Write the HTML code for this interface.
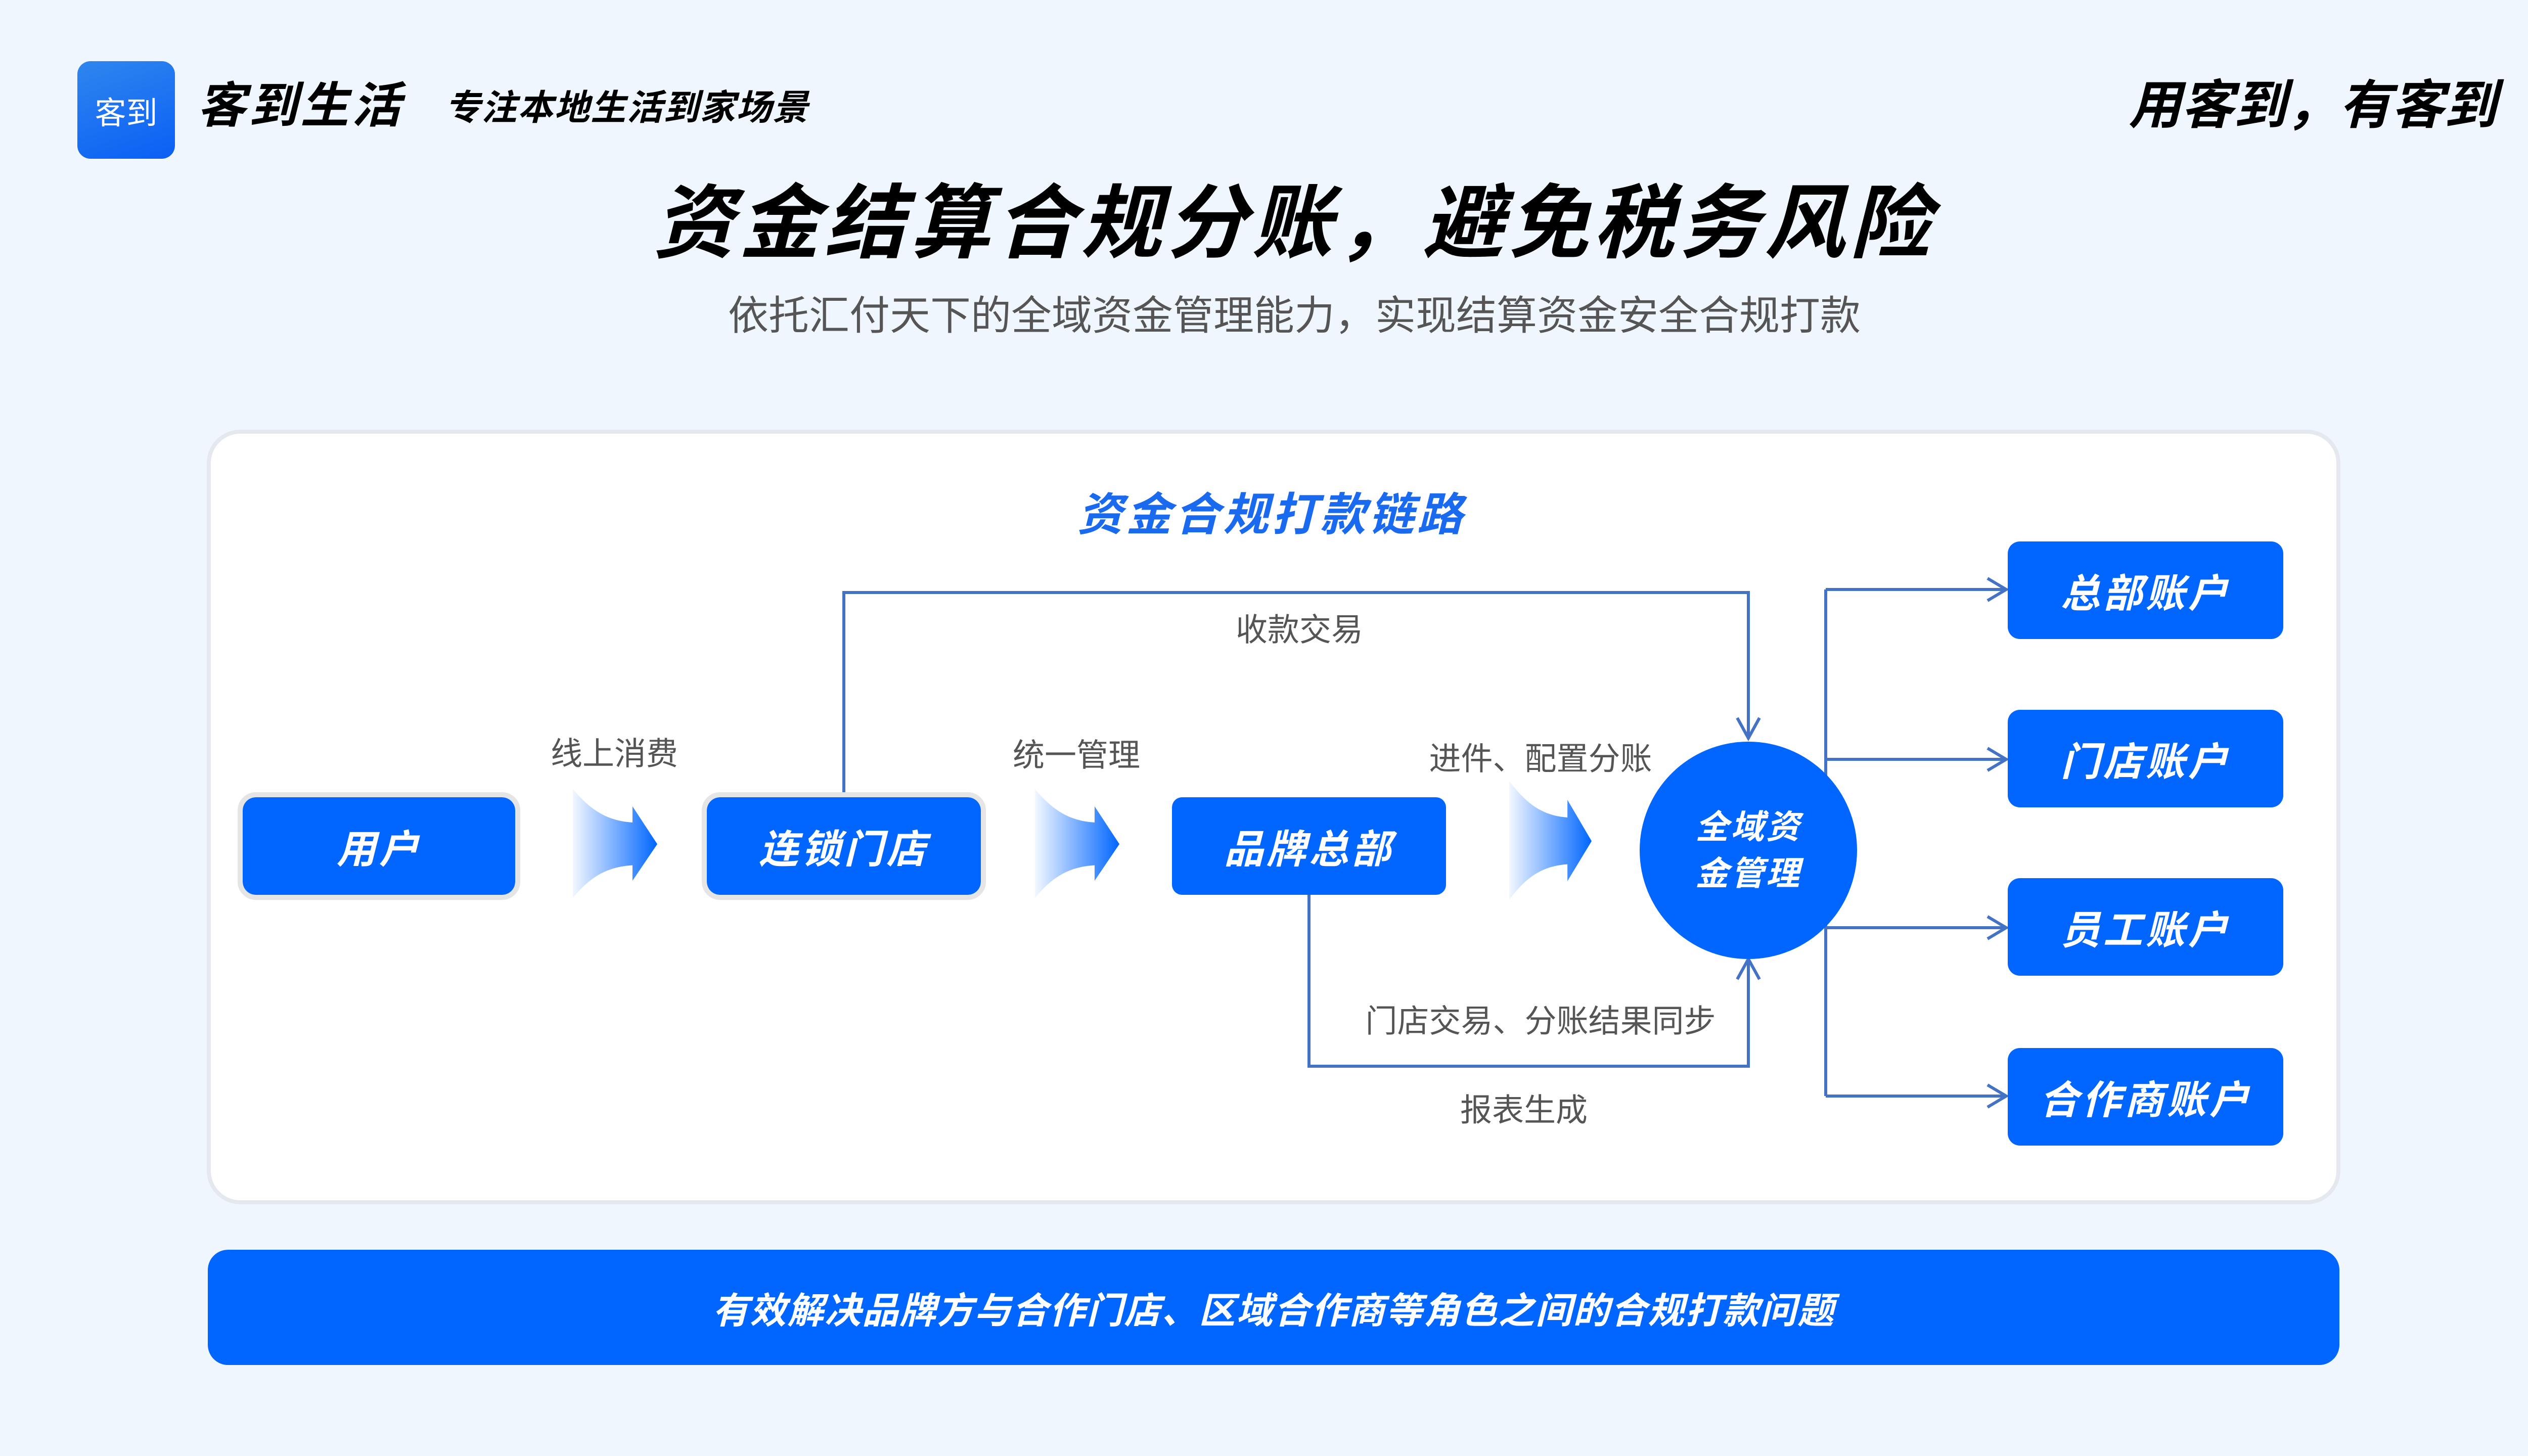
<!DOCTYPE html>
<html><head><meta charset="utf-8"><style>
*{margin:0;padding:0;box-sizing:border-box}
body{width:5120px;height:2880px;background:#f0f6fe;position:relative;overflow:hidden;font-family:"Liberation Sans","Noto Sans CJK SC",sans-serif}
.a{position:absolute}
.c{position:absolute;transform:translate(-50%,-50%);white-space:nowrap}
.bi{font-weight:bold;font-style:italic}
.node{position:absolute;background:#0066ff;color:#fff;display:flex;align-items:center;justify-content:center;font-weight:bold;font-style:italic;font-size:78px;letter-spacing:6px}
.lbl{font-size:63px;color:#555}
</style></head><body>
<div class="a" style="left:153px;top:121px;width:193px;height:193px;border-radius:26px;background:linear-gradient(160deg,#2f86ee,#0a5ff5);color:#fff;font-size:62px;display:flex;align-items:center;justify-content:center">客到</div>
<div class="a bi" style="left:390px;top:148px;font-size:96px;line-height:1.3;letter-spacing:6px">客到生活</div>
<div class="a bi" style="left:880px;top:168px;font-size:70px;line-height:1.3;letter-spacing:2px">专注本地生活到家场景</div>
<div class="a bi" style="left:4210px;top:142px;font-size:104px;line-height:1.3">用客到，有客到</div>
<div class="c bi" style="left:2560px;top:428px;font-size:160px;letter-spacing:9px">资金结算合规分账，避免税务风险</div>
<div class="c" style="left:2560px;top:618px;font-size:80px;color:#555">依托汇付天下的全域资金管理能力，实现结算资金安全合规打款</div>

<div class="a" style="left:409px;top:850px;width:4220px;height:1532px;background:#fff;border:8px solid #e5e9ef;border-radius:66px"></div>
<div class="c bi" style="left:2515px;top:1010px;font-size:90px;color:#1a6af0;letter-spacing:6px">资金合规打款链路</div>

<svg class="a" style="left:0;top:0" width="5120" height="2880">
<defs><linearGradient id="g" x1="0" x2="1" y1="0" y2="0"><stop offset="0" stop-color="#0066ff" stop-opacity="0.05"/><stop offset="1" stop-color="#0066ff"/></linearGradient></defs>
<g fill="none" stroke="#4472c4" stroke-width="6">
<polyline points="1669,1577 1669,1172 3458,1172 3458,1455"/>
<polyline points="3436,1420 3458,1460 3480,1420"/>
<polyline points="2589,1770 2589,2109 3458,2109 3458,1902"/>
<polyline points="3436,1937 3458,1897 3480,1937"/>
<polyline points="3611,1166 3611,2168"/>
<polyline points="3611,1166 3966,1166"/><polyline points="3931,1144 3968,1166 3931,1188"/>
<polyline points="3611,1502 3966,1502"/><polyline points="3931,1480 3968,1502 3931,1524"/>
<polyline points="3611,1835 3966,1835"/><polyline points="3931,1813 3968,1835 3931,1857"/>
<polyline points="3611,2168 3966,2168"/><polyline points="3931,2146 3968,2168 3931,2190"/>
</g>
<g fill="url(#g)">
<svg x="1133" y="1561" width="167" height="215" viewBox="0 0 160 653" preserveAspectRatio="none"><path d="M0,0 C30,110 60,190 113,200 L113,103 L160,330 L113,550 L113,457 C60,467 30,540 0,653 Z"/></svg>
<svg x="2047" y="1561" width="167" height="215" viewBox="0 0 160 653" preserveAspectRatio="none"><path d="M0,0 C30,110 60,190 113,200 L113,103 L160,330 L113,550 L113,457 C60,467 30,540 0,653 Z"/></svg>
<svg x="2985" y="1545" width="163" height="235" viewBox="0 0 160 653" preserveAspectRatio="none"><path d="M0,0 C30,110 60,190 113,200 L113,103 L160,330 L113,550 L113,457 C60,467 30,540 0,653 Z"/></svg>
</g>
<circle cx="3458" cy="1682" r="215" fill="#0066ff"/>
</svg>

<div class="node" style="left:480px;top:1577px;width:539px;height:193px;border-radius:26px;outline:10px solid #e5e5e5">用户</div>
<div class="node" style="left:1398px;top:1577px;width:542px;height:193px;border-radius:26px;outline:10px solid #e5e5e5">连锁门店</div>
<div class="node" style="left:2318px;top:1577px;width:542px;height:193px;border-radius:20px">品牌总部</div>
<div class="c bi" style="left:3458px;top:1682px;font-size:66px;color:#fff;line-height:1.4;text-align:center;letter-spacing:4px">全域资<br>金管理</div>
<div class="node" style="left:3971px;top:1071px;width:545px;height:193px;border-radius:24px">总部账户</div>
<div class="node" style="left:3971px;top:1404px;width:545px;height:193px;border-radius:24px">门店账户</div>
<div class="node" style="left:3971px;top:1737px;width:545px;height:193px;border-radius:24px">员工账户</div>
<div class="node" style="left:3971px;top:2073px;width:545px;height:193px;border-radius:24px">合作商账户</div>

<div class="c lbl" style="left:1215px;top:1486px">线上消费</div>
<div class="c lbl" style="left:2129px;top:1489px">统一管理</div>
<div class="c lbl" style="left:3047px;top:1496px">进件、配置分账</div>
<div class="c lbl" style="left:2570px;top:1241px">收款交易</div>
<div class="c lbl" style="left:3047px;top:2015px">门店交易、分账结果同步</div>
<div class="c lbl" style="left:3014px;top:2191px">报表生成</div>

<div class="a" style="left:411px;top:2472px;width:4216px;height:228px;background:#0066ff;border-radius:40px"></div>
<div class="c bi" style="left:2519px;top:2586px;font-size:72px;color:#fff;letter-spacing:2px">有效解决品牌方与合作门店、区域合作商等角色之间的合规打款问题</div>
</body></html>
